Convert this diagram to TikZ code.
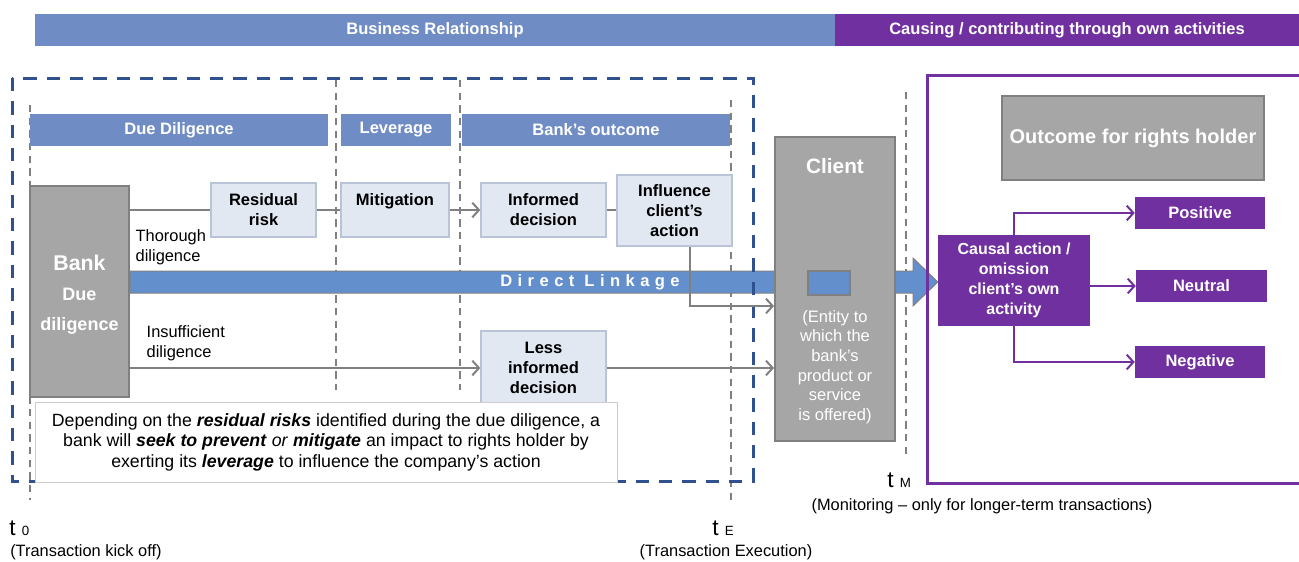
\documentclass[tikz,border=0pt]{standalone}
\usepackage{fontspec}
\setmainfont{Liberation Sans}
\newfontfamily\spacedfont[LetterSpace=33]{Liberation Sans}
\usetikzlibrary{arrows.meta,positioning}
\pgfdeclarelayer{back}
\pgfdeclarelayer{bg}
\pgfsetlayers{back,bg,main}
\definecolor{bannerblue}{RGB}{112,140,196}
\definecolor{bandblue}{RGB}{99,143,205}
\definecolor{vpurple}{RGB}{112,48,160}
\definecolor{boxgray}{RGB}{166,166,166}
\definecolor{linegray}{RGB}{128,128,128}
\definecolor{lboxfill}{RGB}{226,232,242}
\definecolor{lboxline}{RGB}{185,196,216}
\definecolor{dashblue}{RGB}{47,82,143}
\tikzstyle{hdr}=[fill=bannerblue,text=white,inner sep=0pt,minimum height=24pt,
                font=\bfseries\fontsize{12.4}{14}\selectfont]
\tikzstyle{grybox}=[draw=linegray,fill=boxgray,line width=1.5pt,text=white,inner sep=0pt]
\tikzstyle{lbox}=[draw=lboxline,fill=lboxfill,line width=1pt,align=center,inner sep=0pt,
                minimum height=40.5pt,font=\bfseries\fontsize{12.4}{15}\selectfont]
\tikzstyle{pbox}=[fill=vpurple,text=white,align=center,inner sep=0pt,minimum height=24pt,
                font=\bfseries\fontsize{12.4}{15}\selectfont]
\tikzstyle{conn}=[draw=linegray,line width=1.5pt,-{Straight Barb[length=5pt,width=11pt]}]
\tikzstyle{pconn}=[draw=vpurple,line width=1.5pt,-{Straight Barb[length=5pt,width=11pt]}]
\tikzstyle{tline}=[draw=linegray,line width=1.5pt,dash pattern=on 5.5pt off 4pt]
\tikzstyle{ttick}=[inner sep=0pt,font=\fontsize{17}{17}\selectfont]
\tikzstyle{tnote}=[inner sep=0pt,font=\fontsize{12.3}{14}\selectfont]

\begin{document}
\begin{tikzpicture}[x=0.75pt,y=-0.75pt]
  \useasboundingbox (0,0) rectangle (1299,561);

  % time lines
  \begin{pgfonlayer}{back}
    \draw[tline] (30,105) -- (30,500);
    \draw[tline] (336,80) -- (336,390);
    \draw[tline] (460,80) -- (460,390);
    \draw[tline] (731,100) -- (731,500);
    \draw[tline] (906,92) -- (906,455);
  \end{pgfonlayer}

  \draw[dashblue,line width=2.25pt,dash pattern=on 10pt off 7.5pt] (12,78) rectangle (753,481);
  \draw[vpurple,line width=2.25pt] (927,75) rectangle (1304,483);

  \node[hdr,minimum width=600pt] (bizrel) at (435,30) {Business Relationship};
  \node[hdr,fill=vpurple,minimum width=348pt] (cause) at (1067,30) {Causing / contributing through own activities};

  \node[hdr,minimum width=223.5pt] (dd) at (179,130) {Due Diligence};
  \node[hdr,minimum width=82.5pt] (lev) at (396,130) {Leverage};
  \node[hdr,minimum width=201pt] (bout) at (596,130) {Bank’s outcome};

  \node[grybox,minimum width=74.25pt,minimum height=158.25pt,align=center,
        font=\bfseries\fontsize{13.5}{22.5}\selectfont] (bank) at (79.5,291) {};
  \node[text=white,align=center,font=\bfseries\fontsize{13.5}{22.5}\selectfont] (banklbl) at (79.5,295)
    {{\fontsize{16}{22.5}\selectfont Bank}\\Due\\diligence};

  \node[grybox,minimum width=90pt,minimum height=228pt] (client) at (835,289) {};
  \node[text=white,font=\bfseries\fontsize{15.6}{17}\selectfont] (clientlbl) at (835,166) {Client};
  \node[text=white,align=center,font=\fontsize{12.4}{14.7}\selectfont] (entity) at (835,367)
    {(Entity to\\which the\\bank’s\\product or\\service\\is offered)};

  \node[grybox,minimum width=196.5pt,minimum height=63pt,font=\bfseries\fontsize{15}{17}\selectfont] (outc) at (1133,138) {Outcome for rights holder};
  \node[pbox,minimum width=114pt,minimum height=68.25pt,font=\bfseries\fontsize{12}{15}\selectfont] (causal) at (1014,280.5) {Causal action /\\omission\\client’s own\\activity};
  \node[pbox,minimum width=97.5pt] (pos) at (1200,213) {Positive};
  \node[pbox,minimum width=98.25pt] (neu) at (1201.5,286) {Neutral};
  \node[pbox,minimum width=97.5pt] (neg) at (1200,362) {Negative};

  % direct linkage
  \begin{pgfonlayer}{bg}
    \filldraw[fill=bandblue,draw=linegray,line width=0.75pt]
      (bank.east |- 0,271) -- (913,271) -- (913,258) -- (causal.west |- 0,282)
      -- (913,306) -- (913,293) -- (bank.east |- 0,293) -- cycle;
  \end{pgfonlayer}
  \node[text=white,font=\spacedfont\bfseries\fontsize{12.4}{14}\selectfont] (link) at (590,282) {Direct Linkage};
  \node[draw=linegray,fill=bandblue,line width=1pt,inner sep=0pt,minimum width=31.5pt,minimum height=18pt] (slot) at (829,283) {};

  \node[lbox,minimum width=78.75pt] (rres) at (263.5,210) {Residual\\risk};
  \node[lbox,minimum width=81pt] (mitig) at (395,210) {Mitigation\\\mbox{}};
  \node[lbox,minimum width=93.75pt] (inf) at (543.5,210) {Informed\\decision};
  \node[lbox,minimum width=86.25pt,minimum height=53.25pt] (infl) at (674.5,210.5) {Influence\\client’s\\action};
  \node[lbox,minimum width=93.75pt,minimum height=55.5pt] (less) at (543.5,368) {Less\\informed\\decision};

  \draw[conn,-] (bank.east |- rres.west) -- (rres.west);
  \draw[conn,-] (rres.east) -- (mitig.west);
  \draw[conn] (mitig.east) -- (inf.west);
  \draw[conn,-] (inf.east) -- (infl.west |- inf.east);
  \draw[conn] ([xshift=11.6pt]infl.south) |- ([yshift=-12.75pt]client.west);
  \draw[conn] (bank.east |- less.west) -- (less.west);
  \draw[conn] (less.east) -- (less.east -| client.west);

  \draw[pconn] (causal.north) |- (pos.west);
  \draw[pconn] (causal.east |- neu.west) -- (neu.west);
  \draw[pconn] (causal.south) |- (neg.west);

  \node[anchor=west,align=left,font=\fontsize{12.3}{15}\selectfont] (thor) at (131,247) {Thorough\\diligence};
  \node[anchor=west,align=left,font=\fontsize{12.3}{15}\selectfont] (insuf) at (142,343) {Insufficient\\diligence};

  \node[draw=black!20,fill=white,line width=0.75pt,minimum width=436.5pt,minimum height=60pt,align=center,
        font=\fontsize{13.3}{15.4}\selectfont] (note) at (326,442)
    {Depending on the \textbf{\textit{residual risks}} identified during the due diligence, a\\
     bank will \textbf{\textit{seek to prevent}} \textit{or} \textbf{\textit{mitigate}} an impact to rights holder by\\
     exerting its \textbf{\textit{leverage}} to influence the company’s action};

  % time marks
  \node[ttick,anchor=base west] (t0) at (9,535) {t {\fontsize{10}{10}\selectfont 0}};
  \node[tnote,anchor=west] (t0txt) at (10,552) {(Transaction kick off)};
  \node[ttick,anchor=base west] (tE) at (712,535) {t {\fontsize{10}{10}\selectfont E}};
  \node[tnote] (tEtxt) at (726,552) {(Transaction Execution)};
  \node[ttick,anchor=base west] (tM) at (887,487) {t {\fontsize{10}{10}\selectfont M}};
  \node[tnote] (tMtxt) at (982,506) {(Monitoring – only for longer-term transactions)};
\end{tikzpicture}
\end{document}
